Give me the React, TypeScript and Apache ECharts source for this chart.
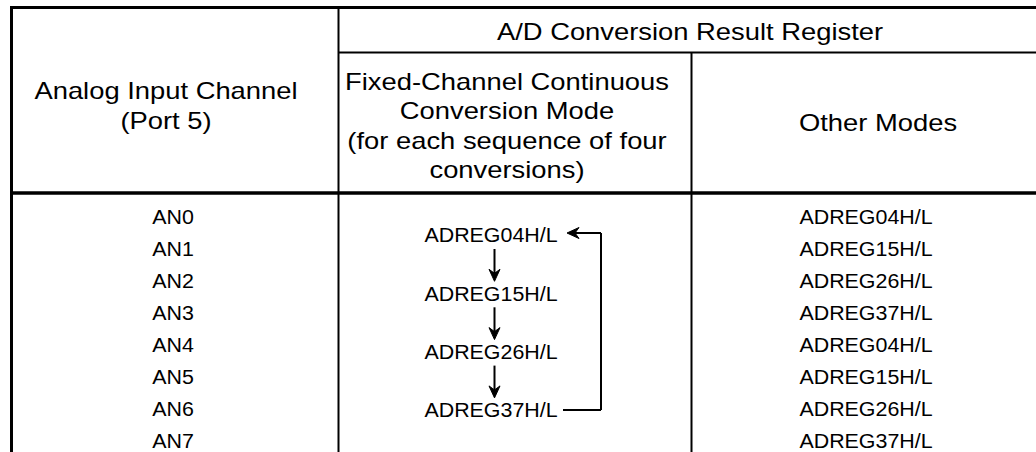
import React, { useEffect, useRef } from "react";
import * as echarts from "echarts";

// ---- data ----
const topHeader = "A/D Conversion Result Register";
const channelHeader = ["Analog Input Channel", "(Port 5)"];
const fixedHeader = [
  "Fixed-Channel Continuous",
  "Conversion Mode",
  "(for each sequence of four",
  "conversions)",
];
const otherHeader = ["Other Modes"];
const channels = ["AN0", "AN1", "AN2", "AN3", "AN4", "AN5", "AN6", "AN7"];
const fixedSequence = ["ADREG04H/L", "ADREG15H/L", "ADREG26H/L", "ADREG37H/L"];
const otherModeRegs = [
  "ADREG04H/L",
  "ADREG15H/L",
  "ADREG26H/L",
  "ADREG37H/L",
  "ADREG04H/L",
  "ADREG15H/L",
  "ADREG26H/L",
  "ADREG37H/L",
];

const FONT = '"Liberation Sans", Arial, Helvetica, sans-serif';

function txt(text: string, x: number, y: number, size: number, sx: number) {
  return {
    type: "text",
    x,
    y,
    scaleX: sx,
    silent: true,
    style: {
      text,
      fill: "#000",
      fontSize: size,
      fontFamily: FONT,
      align: "center",
      verticalAlign: "middle",
    },
  };
}
function ln(x1: number, y1: number, x2: number, y2: number, w: number) {
  return {
    type: "line",
    silent: true,
    shape: { x1, y1, x2, y2 },
    style: { stroke: "#000", lineWidth: w },
  };
}
function head(points: number[][]) {
  return {
    type: "polygon",
    silent: true,
    shape: { points },
    style: { fill: "#000", stroke: "#000", lineWidth: 1 },
  };
}

export default function App() {
  const ref = useRef<HTMLDivElement>(null);
  useEffect(() => {
    if (!ref.current) return;
    const chart = echarts.init(ref.current, null, { renderer: "svg" });
    const W = 1036;
    const H = 452;
    const left = 11.5;
    const top = 7.5;
    const div1 = 338.5;
    const div2 = 691.5;
    const split = 52.5;
    const headBottom = 193;

    const HS = 23; // header font size
    const HX = 1.19;
    const BS = 20; // body font size
    const BX = 1.07;

    const els: any[] = [];
    // borders
    els.push(ln(10, top, W, top, 3));
    els.push(ln(left, 6, left, H, 3));
    els.push(ln(div1, 9, div1, H, 2));
    els.push(ln(div1, split, W, split, 2));
    els.push(ln(10, headBottom, W, headBottom, 3.5));
    els.push(ln(div2, split, div2, H, 2));

    // header texts
    els.push(txt(topHeader, 690, 32, HS, HX));
    const c1x = 166;
    const c1y = 106;
    channelHeader.forEach((t, i) =>
      els.push(txt(t, c1x, c1y + (i - (channelHeader.length - 1) / 2) * 30.5, HS, HX))
    );
    const c2x = 507;
    const c2y = 126;
    fixedHeader.forEach((t, i) =>
      els.push(txt(t, c2x, c2y + (i - (fixedHeader.length - 1) / 2) * 29.5, HS, HX))
    );
    otherHeader.forEach((t) => els.push(txt(t, 878, 123, HS, HX)));

    // body rows
    const row0 = 217;
    const rowH = 31.9;
    channels.forEach((t, i) => els.push(txt(t, 173, row0 + i * rowH, BS, BX)));
    otherModeRegs.forEach((t, i) => els.push(txt(t, 866, row0 + i * rowH, BS, BX)));

    // fixed-channel sequence
    const seqX = 491;
    const seqY0 = 235;
    const seqStep = 58.3;
    const ys = fixedSequence.map((_, i) => seqY0 + i * seqStep);
    fixedSequence.forEach((t, i) => els.push(txt(t, seqX, ys[i], BS, BX)));
    const ax = 494.5;
    for (let i = 0; i < ys.length - 1; i++) {
      const y1 = ys[i] + 14;
      const y2 = ys[i + 1] - 12;
      els.push(ln(ax, y1, ax, y2 - 6, 2));
      els.push(head([[ax - 5.5, y2 - 12], [ax, y2 - 8], [ax + 5.5, y2 - 12], [ax, y2]]));
    }
    const loopX = 601;
    const yTop = ys[0] - 2;
    const yBot = ys[ys.length - 1];
    els.push(ln(loopX, yTop, loopX, yBot, 2));
    els.push(ln(572, yTop, loopX, yTop, 2));
    els.push(head([[579, yTop - 5.5], [575, yTop], [579, yTop + 5.5], [567, yTop]]));
    els.push(ln(563, yBot, loopX, yBot, 2));

    chart.setOption({
      animation: false,
      backgroundColor: "#fff",
      graphic: { elements: els },
    });
    return () => chart.dispose();
  }, []);
  return (
    <div
      ref={ref}
      style={{ position: "fixed", left: 0, top: 0, width: 1036, height: 452, background: "#fff" }}
    />
  );
}
